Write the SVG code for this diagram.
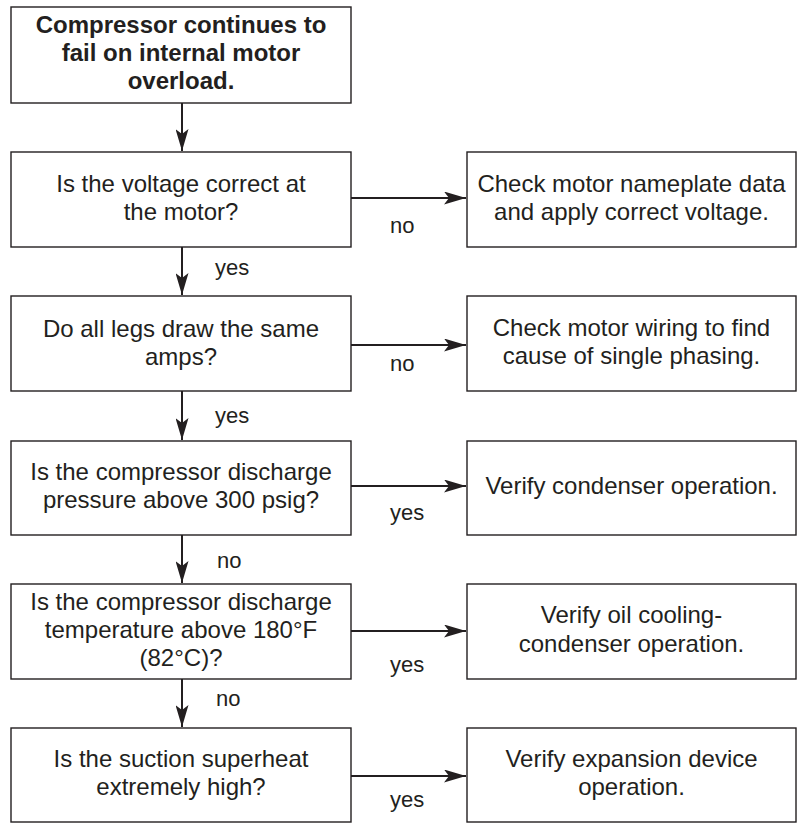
<svg xmlns="http://www.w3.org/2000/svg" width="798" height="824" viewBox="0 0 798 824">
<defs>
<style>
.box{fill:#fff;stroke:#231f20;stroke-width:1.4}
.t{font-family:"Liberation Sans",Arial,sans-serif;font-size:24px;fill:#231f20;text-anchor:middle}
.b{font-weight:bold}
.lbl{font-family:"Liberation Sans",Arial,sans-serif;font-size:22px;fill:#231f20}
.c{stroke:#231f20;stroke-width:2;fill:none;marker-end:url(#ah)}
</style>
<marker id="ah" markerWidth="22" markerHeight="13" refX="22" refY="6.5" orient="auto" markerUnits="userSpaceOnUse">
<path d="M0,0 L22,6.5 L0,13 L5,6.5 Z" fill="#231f20"/>
</marker>
</defs>
<rect width="798" height="824" fill="#fff"/>
<g id="connectors">
<line class="c" x1="182" y1="103" x2="182" y2="151"/>
<line class="c" x1="182" y1="247" x2="182" y2="295"/>
<line class="c" x1="182" y1="391" x2="182" y2="440"/>
<line class="c" x1="182" y1="535" x2="182" y2="583"/>
<line class="c" x1="182" y1="679" x2="182" y2="727"/>
<line class="c" x1="351" y1="198" x2="466" y2="198"/>
<line class="c" x1="351" y1="345" x2="466" y2="345"/>
<line class="c" x1="351" y1="486" x2="466" y2="486"/>
<line class="c" x1="351" y1="631" x2="466" y2="631"/>
<line class="c" x1="351" y1="776" x2="466" y2="776"/>
<text class="lbl" x="390" y="233">no</text>
<text class="lbl" x="215" y="275">yes</text>
<text class="lbl" x="390" y="371">no</text>
<text class="lbl" x="215" y="423">yes</text>
<text class="lbl" x="390" y="520">yes</text>
<text class="lbl" x="217" y="568">no</text>
<text class="lbl" x="390" y="672">yes</text>
<text class="lbl" x="216" y="706">no</text>
<text class="lbl" x="390" y="807">yes</text>
</g>
<g id="start">
<rect class="box" x="11" y="7" width="340" height="96"/>
<text class="t b" x="181" y="33">Compressor continues to</text>
<text class="t b" x="181" y="61">fail on internal motor</text>
<text class="t b" x="181" y="89">overload.</text>
</g>
<g id="q1">
<rect class="box" x="11" y="152" width="340" height="95"/>
<text class="t" x="181" y="192">Is the voltage correct at</text>
<text class="t" x="181" y="220">the motor?</text>
</g>
<g id="a1">
<rect class="box" x="467" y="152" width="329" height="95"/>
<text class="t" x="631.5" y="192">Check motor nameplate data</text>
<text class="t" x="631.5" y="220">and apply correct voltage.</text>
</g>
<g id="q2">
<rect class="box" x="11" y="296" width="340" height="95"/>
<text class="t" x="181" y="337">Do all legs draw the same</text>
<text class="t" x="181" y="365">amps?</text>
</g>
<g id="a2">
<rect class="box" x="467" y="296" width="329" height="95"/>
<text class="t" x="631.5" y="336">Check motor wiring to find</text>
<text class="t" x="631.5" y="364">cause of single phasing.</text>
</g>
<g id="q3">
<rect class="box" x="11" y="441" width="340" height="94"/>
<text class="t" x="181" y="480">Is the compressor discharge</text>
<text class="t" x="181" y="508">pressure above 300 psig?</text>
</g>
<g id="a3">
<rect class="box" x="467" y="441" width="329" height="94"/>
<text class="t" x="631.5" y="494">Verify condenser operation.</text>
</g>
<g id="q4">
<rect class="box" x="11" y="584" width="340" height="95"/>
<text class="t" x="181" y="610">Is the compressor discharge</text>
<text class="t" x="181" y="638">temperature above 180°F</text>
<text class="t" x="181" y="666">(82°C)?</text>
</g>
<g id="a4">
<rect class="box" x="467" y="584" width="329" height="95"/>
<text class="t" x="631.5" y="623">Verify oil cooling-</text>
<text class="t" x="631.5" y="652">condenser operation.</text>
</g>
<g id="q5">
<rect class="box" x="11" y="728" width="340" height="94"/>
<text class="t" x="181" y="767">Is the suction superheat</text>
<text class="t" x="181" y="795">extremely high?</text>
</g>
<g id="a5">
<rect class="box" x="467" y="728" width="329" height="94"/>
<text class="t" x="631.5" y="767">Verify expansion device</text>
<text class="t" x="631.5" y="795">operation.</text>
</g>
</svg>
